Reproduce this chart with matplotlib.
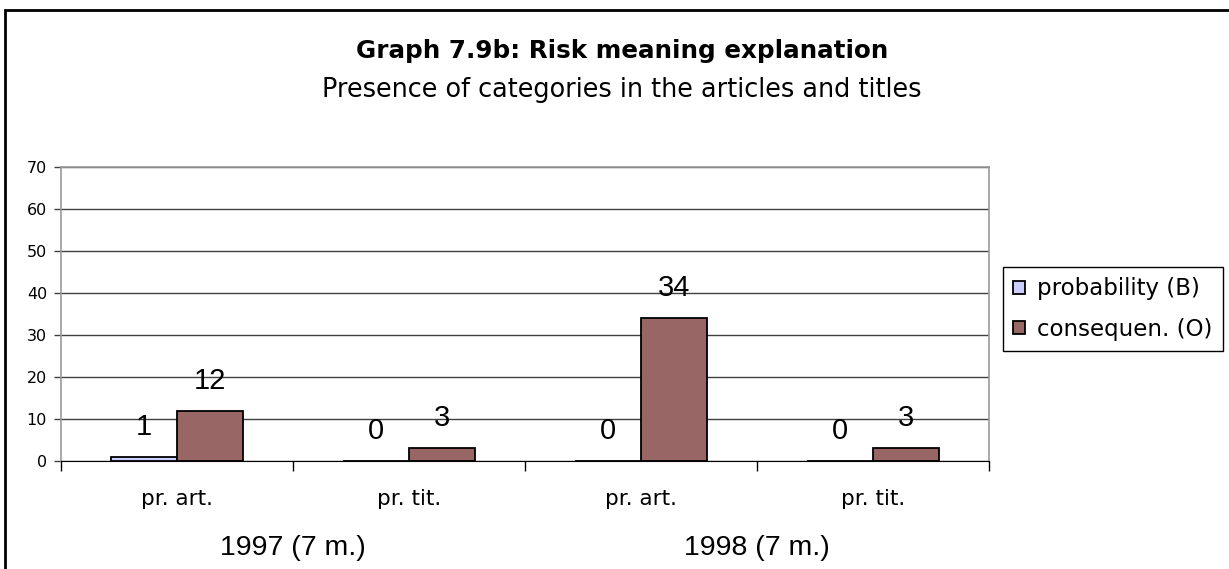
import numpy as np
import matplotlib
matplotlib.use("Agg")
import matplotlib.pyplot as plt
from matplotlib.patches import Rectangle
from matplotlib.transforms import blended_transform_factory

plt.rcParams['font.family'] = ['DejaVu Sans']
ARIAL = ['Liberation Sans', 'DejaVu Sans']

# data
categories = ['pr. art.', 'pr. tit.', 'pr. art.', 'pr. tit.']
years = ['1997 (7 m.)', '1998 (7 m.)']
probability = [1, 0, 0, 0]
consequence = [12, 3, 34, 3]
series_names = ['probability (B)', 'consequen. (O)']
colors = ['#CCCCFF', '#996666']

W, H = 1229, 569
fig = plt.figure(figsize=(W / 100, H / 100), dpi=100)
ax = fig.add_axes([61 / W, 1 - 461 / H, (989 - 61) / W, (461 - 167) / H])

x = np.arange(len(categories)) + 0.5
bw = 66 / 232
b1 = ax.bar(x - bw / 2, probability, bw, color=colors[0], edgecolor='black', lw=1.3, zorder=3)
b2 = ax.bar(x + bw / 2, consequence, bw, color=colors[1], edgecolor='black', lw=1.3, zorder=3)

# value labels
for bars, vals in ((b1, probability), (b2, consequence)):
    for r, v in zip(bars, vals):
        ax.annotate(str(v), (r.get_x() + r.get_width() / 2, v), xytext=(0, 30),
                    textcoords='offset pixels', ha='center', va='center',
                    fontsize=21, family=ARIAL)

ax.set_xlim(0, 4)
ax.set_ylim(0, 70)
ax.set_yticks(range(0, 71, 10))
ax.set_xticks(range(0, 5))
ax.set_xticklabels([])
ax.tick_params(axis='x', direction='out', length=7, width=1, color='black')
ax.tick_params(axis='y', direction='out', length=5, width=1, labelsize=11.5, pad=5, color='#404040')
ax.yaxis.grid(True, color='#404040', lw=1)
ax.set_axisbelow(True)
for s in ('top', 'right', 'left'):
    ax.spines[s].set_color('#9a9a9a')
    ax.spines[s].set_linewidth(1.2)
ax.spines['bottom'].set_color('black')

tr = blended_transform_factory(ax.transData, fig.transFigure)
for xi, c in zip(x, categories):
    ax.text(xi, 1 - 499 / H, c, transform=tr, ha='center', va='center', fontsize=15.5)
for i, yl in enumerate(years):
    ax.text(2 * i + 1, 1 - 548 / H, yl, transform=tr, ha='center', va='center',
            fontsize=20.5, family=ARIAL)

fig.text(622 / W, 1 - 51 / H, 'Graph 7.9b: Risk meaning explanation',
         ha='center', va='center', fontsize=17.7, fontweight='bold')
fig.text(622 / W, 1 - 90 / H, 'Presence of categories in the articles and titles',
         ha='center', va='center', fontsize=18.4)

leg = fig.legend([b1, b2], series_names, loc='upper left',
                 bbox_to_anchor=(1003 / W, 1 - 267 / H), fontsize=16.5,
                 fancybox=False, edgecolor='black', framealpha=1,
                 handlelength=0.5, handleheight=0.5, handletextpad=0.55,
                 borderpad=0.45, labelspacing=0.75, borderaxespad=0)
leg.get_frame().set_linewidth(1)

# outer chart border
fig.add_artist(Rectangle((5 / W, -0.2), 1.5, 1.2 - 10 / H, transform=fig.transFigure,
                         fill=False, edgecolor='black', lw=2))

fig.savefig('out.png', dpi=100)
